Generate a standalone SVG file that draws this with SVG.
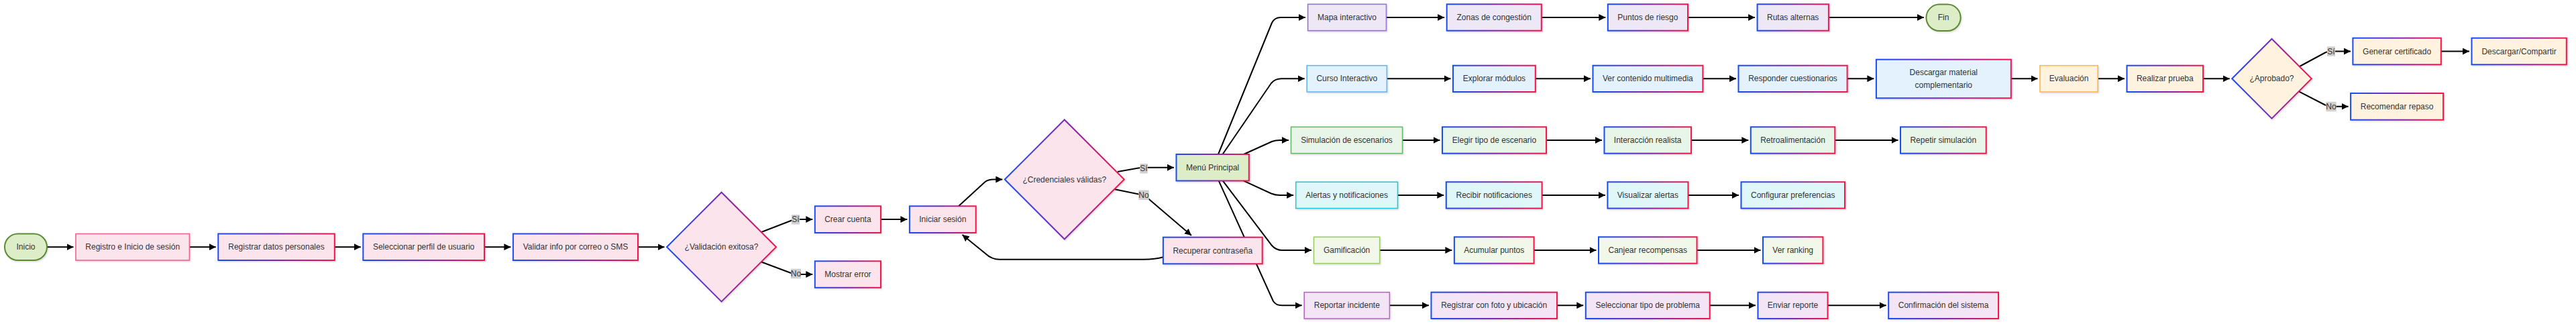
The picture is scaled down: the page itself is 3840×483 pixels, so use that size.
<svg xmlns="http://www.w3.org/2000/svg" width="3840" height="483" viewBox="0 0 3840 483">
<defs>
<linearGradient id="g" x1="0" y1="0" x2="1" y2="0"><stop offset="0" stop-color="#1a4cf5"/><stop offset="0.5" stop-color="#7a2ab0"/><stop offset="1" stop-color="#f5144c"/></linearGradient>
<marker id="a" viewBox="0 0 10 10" refX="10" refY="5" markerWidth="10" markerHeight="10" markerUnits="userSpaceOnUse" orient="auto"><path d="M0,0L10,5L0,10z" fill="#000"/></marker>
<filter id="sh" x="-10%" y="-20%" width="120%" height="150%"><feDropShadow dx="1.2" dy="1.5" stdDeviation="1" flood-color="#000" flood-opacity="0.15"/></filter>
</defs>
<style>
.e{fill:none;stroke:#000;stroke-width:2;marker-end:url(#a)}
.l{fill:#d0d0d0}
.lt{font-family:"Liberation Sans",Arial,sans-serif;font-size:12px;fill:#333;text-anchor:middle;dominant-baseline:central}
.t{font-family:"Liberation Sans",Arial,sans-serif;font-size:12px;fill:#333;text-anchor:middle;dominant-baseline:central}
.s{filter:url(#sh)}
.gs{stroke:url(#g);stroke-width:2}
.pk{fill:#fce4ec}.gr{fill:#dcedc8}.pu{fill:#ede7f6}.bl{fill:#e3f2fd}.sg{fill:#e8f5e9}.cy{fill:#e0f7fa}.lg{fill:#f1f8e9}.vi{fill:#f3e5f5}.or{fill:#fff3e0}
.term{stroke:#5a8a33;stroke-width:2}
</style>
<rect width="3840" height="483" fill="#fff"/>
<g id="connectors">
<path class="e" d="M70,368.2L109.5,368.2"/>
<path class="e" d="M282.4,368.2L321.8,368.2"/>
<path class="e" d="M498.8,368.2L537.8,368.2"/>
<path class="e" d="M722,368.2L761.4,368.2"/>
<path class="e" d="M951,368.2L990.5,368.2"/>
<path class="e" d="M1135,346L1179,329Q1183,327.1 1188,327.1L1211.3,327.1"/>
<path class="e" d="M1135,390.5L1179,407Q1183,409 1188,409L1211.3,409"/>
<path class="e" d="M1313,327.1L1352.4,327.1"/>
<path class="e" d="M1429,307.3L1468,271.5Q1473,267.5 1481,267.5L1494.3,267.5"/>
<path class="e" d="M1666,256L1697,250.5Q1702,249.7 1708,249.7L1750,249.7"/>
<path class="e" d="M1662,282.3L1700,290Q1708,292 1714,298L1776,351"/>
<path class="e" d="M1734,383.3Q1722,386.7 1705,386.7L1490,386.7Q1478,386.7 1469,378L1434.5,350"/>
<path class="e" d="M1816,230L1896,34Q1900,26 1909,26L1946,26"/>
<path class="e" d="M1822.5,230L1895,124Q1901,117.3 1910,117.3L1944.7,117.3"/>
<path class="e" d="M1854,230L1896,211Q1901,209 1908,209L1921,209"/>
<path class="e" d="M1853.5,269.3L1895,288.5Q1901,291 1908,291L1928.2,291"/>
<path class="e" d="M1822.7,269.3L1896,366Q1902,373 1911,373L1955,373"/>
<path class="e" d="M1816.7,269.3L1898,449Q1902,455.3 1911,455.3L1940.7,455.3"/>
<path class="e" d="M2066.5,26L2153.2,26"/>
<path class="e" d="M2297.8,26L2393.3,26"/>
<path class="e" d="M2516,26L2616.1,26"/>
<path class="e" d="M2725.9,26L2867.9,26"/>
<path class="e" d="M2067.4,117.3L2162.5,117.3"/>
<path class="e" d="M2288.8,117.3L2371,117.3"/>
<path class="e" d="M2538.4,117.3L2588,117.3"/>
<path class="e" d="M2753.6,117.3L2793.4,117.3"/>
<path class="e" d="M2997.8,117.3L3037.5,117.3"/>
<path class="e" d="M3127.2,117.3L3167,117.3"/>
<path class="e" d="M3284.1,117.3L3323.7,117.3"/>
<path class="e" d="M3428,99L3466,78.5Q3470,76.5 3477,76.5L3504,76.5"/>
<path class="e" d="M3427.4,136.7L3466,156.5Q3470,158.8 3477,158.8L3500.6,158.8"/>
<path class="e" d="M3638.8,76.5L3681,76.5"/>
<path class="e" d="M2090.6,209L2146.5,209"/>
<path class="e" d="M2305,209L2388,209"/>
<path class="e" d="M2521,209L2606.3,209"/>
<path class="e" d="M2735.3,209L2829.5,209"/>
<path class="e" d="M2083.5,291L2152.3,291"/>
<path class="e" d="M2298.6,291L2392.9,291"/>
<path class="e" d="M2516.5,291L2592,291"/>
<path class="e" d="M2056.7,373L2164.4,373"/>
<path class="e" d="M2286.6,373L2379.5,373"/>
<path class="e" d="M2529.5,373L2624.5,373"/>
<path class="e" d="M2071.4,455.3L2130,455.3"/>
<path class="e" d="M2321,455.3L2360.3,455.3"/>
<path class="e" d="M2548.7,455.3L2617,455.3"/>
<path class="e" d="M2724.5,455.3L2811.7,455.3"/>
<rect class="l" x="1180" y="320" width="12" height="14.5"/><text class="lt" x="1186" y="327.2">Sí</text>
<rect class="l" x="1179" y="400.7" width="15" height="14.5"/><text class="lt" x="1186.5" y="408">No</text>
<rect class="l" x="1699.3" y="244" width="11.5" height="14.5"/><text class="lt" x="1705" y="251.3">Sí</text>
<rect class="l" x="1697.3" y="283.5" width="15.4" height="14.5"/><text class="lt" x="1705" y="290.8">No</text>
<rect class="l" x="3469" y="69.3" width="12" height="14.5"/><text class="lt" x="3475" y="76.5">Sí</text>
<rect class="l" x="3467.3" y="151.7" width="15.4" height="14.5"/><text class="lt" x="3475" y="159">No</text>
</g>
<g id="n-inicio"><rect class="s gr term" x="7" y="348.5" width="63" height="39.5" rx="19.75"/><text class="t" x="38.5" y="368.2">Inicio</text></g>
<g id="n-registro"><rect class="s pk" stroke="#f06292" stroke-width="1.6" x="113" y="348.5" width="169.4" height="39.5"/><text class="t" x="197.7" y="368.2">Registro e Inicio de sesión</text></g>
<g id="n-datos"><rect class="s pk gs" x="325.3" y="348.5" width="173.5" height="39.5"/><text class="t" x="412" y="368.2">Registrar datos personales</text></g>
<g id="n-perfil"><rect class="s pk gs" x="541.3" y="348.5" width="180.7" height="39.5"/><text class="t" x="631.6" y="368.2">Seleccionar perfil de usuario</text></g>
<g id="n-validar"><rect class="s pk gs" x="764.9" y="348.5" width="186.1" height="39.5"/><text class="t" x="858" y="368.2">Validar info por correo o SMS</text></g>
<g id="n-validacion"><polygon class="s pk gs" points="994,368.2 1075.5,286.7 1157,368.2 1075.5,449.7"/><text class="t" x="1075.5" y="368.2">¿Validación exitosa?</text></g>
<g id="n-crear"><rect class="s pk gs" x="1214.8" y="307.3" width="98.2" height="39.7"/><text class="t" x="1263.9" y="327.1">Crear cuenta</text></g>
<g id="n-error"><rect class="s pk gs" x="1214.8" y="389.3" width="98.2" height="39.5"/><text class="t" x="1263.9" y="409">Mostrar error</text></g>
<g id="n-iniciar"><rect class="s pk gs" x="1355.9" y="307.3" width="98.8" height="39.7"/><text class="t" x="1405.3" y="327.1">Iniciar sesión</text></g>
<g id="n-credenciales"><polygon class="s pk gs" points="1497.8,267.5 1586.8,178.5 1675.8,267.5 1586.8,356.5"/><text class="t" x="1586.8" y="267.5">¿Credenciales válidas?</text></g>
<g id="n-menu"><rect class="s gr gs" x="1753.5" y="230" width="108.3" height="39.5"/><text class="t" x="1807.6" y="249.7">Menú Principal</text></g>
<g id="n-recuperar"><rect class="s pk gs" x="1733.9" y="353.7" width="147.8" height="39.6"/><text class="t" x="1807.8" y="373.5">Recuperar contraseña</text></g>
<g id="n-mapa"><rect class="s pu" stroke="#9575cd" stroke-width="1.6" x="1949.6" y="6.3" width="116.9" height="39.4"/><text class="t" x="2008" y="26">Mapa interactivo</text></g>
<g id="n-zonas"><rect class="s pu gs" x="2156.7" y="6.3" width="141.1" height="39.4"/><text class="t" x="2227.2" y="26">Zonas de congestión</text></g>
<g id="n-puntos"><rect class="s pu gs" x="2396.8" y="6.3" width="119.2" height="39.4"/><text class="t" x="2456.4" y="26">Puntos de riesgo</text></g>
<g id="n-rutas"><rect class="s pu gs" x="2619.6" y="6.3" width="106.3" height="39.4"/><text class="t" x="2672.7" y="26">Rutas alternas</text></g>
<g id="n-fin"><rect class="s gr term" x="2871.4" y="6.6" width="51.3" height="39.4" rx="19.7"/><text class="t" x="2897" y="26.3">Fin</text></g>
<g id="n-curso"><rect class="s bl" stroke="#64b5f6" stroke-width="1.6" x="1948.2" y="97.7" width="119.2" height="39.3"/><text class="t" x="2007.8" y="117.3">Curso Interactivo</text></g>
<g id="n-explorar"><rect class="s bl gs" x="2166" y="97.7" width="122.8" height="39.3"/><text class="t" x="2227.4" y="117.3">Explorar módulos</text></g>
<g id="n-multimedia"><rect class="s bl gs" x="2374.5" y="97.7" width="163.9" height="39.3"/><text class="t" x="2456.4" y="117.3">Ver contenido multimedia</text></g>
<g id="n-responder"><rect class="s bl gs" x="2591.5" y="97.7" width="162.1" height="39.3"/><text class="t" x="2672.5" y="117.3">Responder cuestionarios</text></g>
<g id="n-descargar"><rect class="s bl gs" x="2796.9" y="88.7" width="200.9" height="57.6"/><text class="t" x="2897.3" y="107.7">Descargar material</text><text class="t" x="2897.3" y="126.7">complementario</text></g>
<g id="n-evaluacion"><rect class="s or" stroke="#ffb74d" stroke-width="1.6" x="3041" y="97.7" width="86.2" height="39.3"/><text class="t" x="3084.1" y="117.3">Evaluación</text></g>
<g id="n-prueba"><rect class="s or gs" x="3170.5" y="97.7" width="113.6" height="39.3"/><text class="t" x="3227.3" y="117.3">Realizar prueba</text></g>
<g id="n-aprobado"><polygon class="s or gs" points="3327.2,117.3 3386.5,58 3445.8,117.3 3386.5,176.6"/><text class="t" x="3386.5" y="117.3">¿Aprobado?</text></g>
<g id="n-certificado"><rect class="s or gs" x="3507.4" y="56.7" width="131.4" height="39.6"/><text class="t" x="3573.1" y="76.5">Generar certificado</text></g>
<g id="n-compartir"><rect class="s or gs" x="3684.5" y="56.7" width="141.3" height="39.6"/><text class="t" x="3755.1" y="76.5">Descargar/Compartir</text></g>
<g id="n-repaso"><rect class="s or gs" x="3504.1" y="139" width="138" height="39.7"/><text class="t" x="3573.1" y="158.8">Recomendar repaso</text></g>
<g id="n-simulacion"><rect class="s sg" stroke="#66bb6a" stroke-width="1.6" x="1924.5" y="189.3" width="166.1" height="39.4"/><text class="t" x="2007.5" y="209">Simulación de escenarios</text></g>
<g id="n-elegir"><rect class="s sg gs" x="2150" y="189.3" width="155" height="39.4"/><text class="t" x="2227.5" y="209">Elegir tipo de escenario</text></g>
<g id="n-interaccion"><rect class="s sg gs" x="2391.5" y="189.3" width="129.5" height="39.4"/><text class="t" x="2456.2" y="209">Interacción realista</text></g>
<g id="n-retro"><rect class="s sg gs" x="2609.8" y="189.3" width="125.5" height="39.4"/><text class="t" x="2672.5" y="209">Retroalimentación</text></g>
<g id="n-repetir"><rect class="s sg gs" x="2833" y="189.3" width="127.7" height="39.4"/><text class="t" x="2896.8" y="209">Repetir simulación</text></g>
<g id="n-alertas"><rect class="s cy" stroke="#26c6da" stroke-width="1.6" x="1931.7" y="271.3" width="151.8" height="39.3"/><text class="t" x="2007.6" y="291">Alertas y notificaciones</text></g>
<g id="n-recibir"><rect class="s cy gs" x="2155.8" y="271.3" width="142.8" height="39.3"/><text class="t" x="2227.2" y="291">Recibir notificaciones</text></g>
<g id="n-visualizar"><rect class="s cy gs" x="2396.4" y="271.3" width="120.1" height="39.3"/><text class="t" x="2456.4" y="291">Visualizar alertas</text></g>
<g id="n-configurar"><rect class="s cy gs" x="2595.5" y="271.3" width="154.5" height="39.3"/><text class="t" x="2672.7" y="291">Configurar preferencias</text></g>
<g id="n-gamificacion"><rect class="s lg" stroke="#9ccc65" stroke-width="1.6" x="1958.5" y="353.3" width="98.2" height="39.4"/><text class="t" x="2007.6" y="373">Gamificación</text></g>
<g id="n-acumular"><rect class="s lg gs" x="2167.9" y="353.3" width="118.7" height="39.4"/><text class="t" x="2227.2" y="373">Acumular puntos</text></g>
<g id="n-canjear"><rect class="s lg gs" x="2383" y="353.3" width="146.5" height="39.4"/><text class="t" x="2456.2" y="373">Canjear recompensas</text></g>
<g id="n-ranking"><rect class="s lg gs" x="2628" y="353.3" width="89.4" height="39.4"/><text class="t" x="2672.7" y="373">Ver ranking</text></g>
<g id="n-reportar"><rect class="s vi" stroke="#ba68c8" stroke-width="1.6" x="1944.2" y="435.7" width="127.2" height="39.3"/><text class="t" x="2007.8" y="455.3">Reportar incidente</text></g>
<g id="n-foto"><rect class="s vi gs" x="2133.5" y="435.7" width="187.5" height="39.3"/><text class="t" x="2227.2" y="455.3">Registrar con foto y ubicación</text></g>
<g id="n-tipo"><rect class="s vi gs" x="2363.8" y="435.7" width="184.9" height="39.3"/><text class="t" x="2456.2" y="455.3">Seleccionar tipo de problema</text></g>
<g id="n-enviar"><rect class="s vi gs" x="2620.5" y="435.7" width="104" height="39.3"/><text class="t" x="2672.5" y="455.3">Enviar reporte</text></g>
<g id="n-confirmacion"><rect class="s vi gs" x="2815.2" y="435.7" width="163.8" height="39.3"/><text class="t" x="2897.1" y="455.3">Confirmación del sistema</text></g>
</svg>
